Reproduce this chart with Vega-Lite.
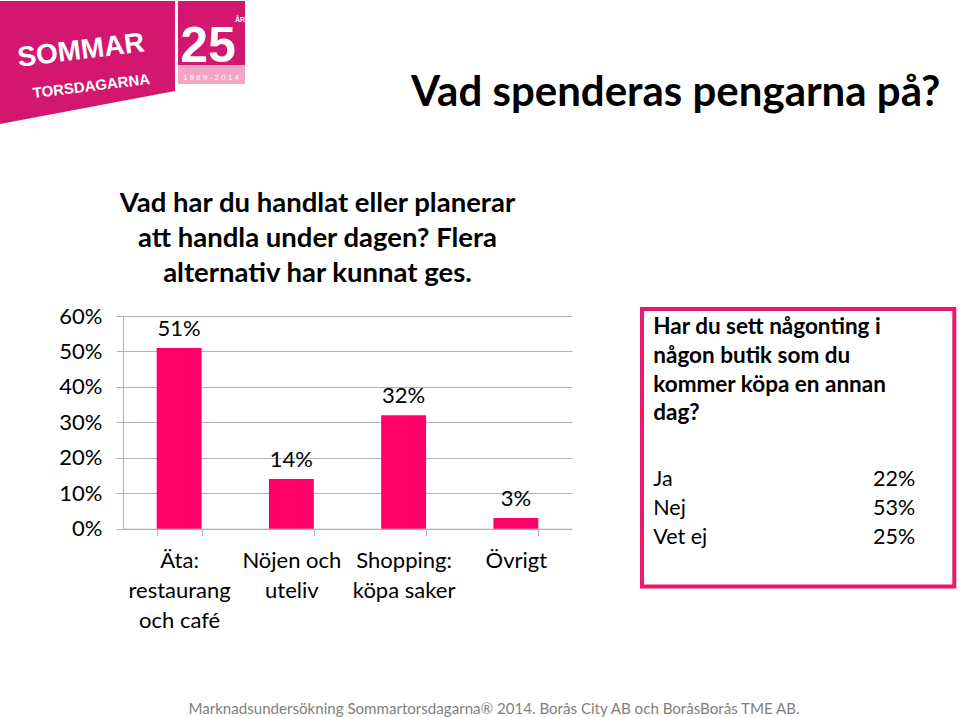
{
  "$schema": "https://vega.github.io/schema/vega-lite/v6.json",
  "padding": 0,
  "background": "#ffffff",
  "bounds": "flush",
  "align": "each",
  "spacing": 0,
  "columns": 4,
  "config": {"view": {"stroke": null}, "font": "Lato"},
  "concat": [
    {
      "width": 123,
      "height": 125,
      "data": {"values": [{}]},
      "encoding": {
        "x": {"datum": 0, "type": "quantitative", "scale": {"domain": [0, 123], "nice": false}, "axis": null},
        "y": {"datum": 0, "type": "quantitative", "scale": {"domain": [0, 125], "nice": false, "reverse": true}, "axis": null}
      },
      "layer": [
        {
          "mark": {"type": "point", "filled": true, "opacity": 1, "color": "#D3176F", "size": 30625, "shape": "M-1,-0.703L1,-0.703L1,0.3257L-1,0.703Z"},
          "encoding": {"x": {"datum": 87.5, "type": "quantitative"}, "y": {"datum": 61.5, "type": "quantitative"}}
        },
        {
          "mark": {"type": "rect", "color": "#D3176F"},
          "encoding": {"x": {"datum": 178, "type": "quantitative"}, "x2": {"datum": 245}, "y": {"datum": 0, "type": "quantitative"}, "y2": {"datum": 64}}
        },
        {
          "mark": {"type": "rect", "color": "#F2A5C5"},
          "encoding": {"x": {"datum": 178, "type": "quantitative"}, "x2": {"datum": 245}, "y": {"datum": 64, "type": "quantitative"}, "y2": {"datum": 83}}
        },
        {
          "mark": {"type": "text", "text": "SOMMAR", "font": "Liberation Sans", "fontWeight": "bold", "fontSize": 28, "color": "#ffffff", "align": "center", "baseline": "alphabetic", "angle": -7},
          "encoding": {"x": {"datum": 82, "type": "quantitative"}, "y": {"datum": 58, "type": "quantitative"}}
        },
        {
          "mark": {"type": "text", "text": "TORSDAGARNA", "font": "Liberation Sans", "fontWeight": "bold", "fontSize": 15, "color": "#ffffff", "align": "center", "baseline": "alphabetic", "angle": -7},
          "encoding": {"x": {"datum": 92, "type": "quantitative"}, "y": {"datum": 90, "type": "quantitative"}}
        },
        {
          "mark": {"type": "text", "text": "25", "font": "Liberation Sans", "fontWeight": "bold", "fontSize": 50, "color": "#ffffff", "align": "center", "baseline": "alphabetic"},
          "encoding": {"x": {"datum": 208, "type": "quantitative"}, "y": {"datum": 61, "type": "quantitative"}}
        },
        {
          "mark": {"type": "text", "text": "ÅR", "font": "Liberation Sans", "fontWeight": "bold", "fontSize": 7, "color": "#ffffff", "align": "center", "baseline": "alphabetic"},
          "encoding": {"x": {"datum": 240, "type": "quantitative"}, "y": {"datum": 21, "type": "quantitative"}}
        },
        {
          "mark": {"type": "text", "text": "1 9 8 9 - 2 0 1 4", "font": "Liberation Sans", "fontSize": 8, "color": "#ffffff", "align": "center", "baseline": "alphabetic"},
          "encoding": {"x": {"datum": 211, "type": "quantitative"}, "y": {"datum": 79, "type": "quantitative"}}
        }
      ]
    },
    {"width": 449, "height": 308, "data": {"values": []}, "mark": "point"},
    {"width": 69.4, "height": 1, "data": {"values": []}, "mark": "point"},
    {
      "width": 312.3,
      "height": 308,
      "data": {"values": []},
      "mark": "point",
      "title": {"text": "Vad spenderas pengarna på?", "anchor": "end", "frame": "group", "orient": "top", "offset": -147, "dx": -14, "baseline": "alphabetic", "font": "Lato", "fontSize": 42, "fontWeight": "bold", "color": "#000000"}
    },
    {"width": 123, "height": 1, "data": {"values": []}, "mark": "point"},
    {
      "width": 449,
      "height": 219.7,
      "data": {"values": [
        {"cat": "Äta: restaurang och café", "pct": 0.51},
        {"cat": "Nöjen och uteliv", "pct": 0.14},
        {"cat": "Shopping: köpa saker", "pct": 0.32},
        {"cat": "Övrigt", "pct": 0.03}
      ]},
      "title": {"text": ["Vad har du handlat eller planerar", "att handla under dagen? Flera", "alternativ har kunnat ges."], "anchor": "middle", "frame": "group", "dx": -30, "offset": -10, "baseline": "bottom", "lineHeight": 35, "font": "Lato", "fontSize": 27.5, "fontWeight": "bold", "color": "#000000"},
      "encoding": {
        "x": {
          "field": "cat", "type": "nominal", "sort": null,
          "scale": {"paddingInner": 0.6, "paddingOuter": 0.3},
          "axis": {
            "title": null, "labelAngle": 0, "labelFontSize": 22, "labelColor": "#000000", "labelLineHeight": 30, "labelPadding": 15,
            "tickSize": 7, "tickColor": "#B3B3B3", "domainColor": "#B3B3B3", "tickBand": "extent",
            "labelOverlap": false, "labelBound": false, "labelLimit": 0, "grid": false,
            "labelExpr": "datum.value == 'Äta: restaurang och café' ? ['Äta:', 'restaurang', 'och café'] : datum.value == 'Nöjen och uteliv' ? ['Nöjen och', 'uteliv'] : datum.value == 'Shopping: köpa saker' ? ['Shopping:', 'köpa saker'] : datum.value"
          }
        },
        "y": {
          "field": "pct", "type": "quantitative",
          "scale": {"domain": [0, 0.6], "nice": false, "range": [219.7, 7]},
          "axis": {
            "title": null, "values": [0, 0.1, 0.2, 0.3, 0.4, 0.5, 0.6], "format": ".0%",
            "labelFontSize": 22, "labelColor": "#000000", "labelPadding": 14,
            "grid": true, "gridColor": "#B3B3B3", "tickSize": 7, "tickColor": "#B3B3B3", "domainColor": "#B3B3B3"
          }
        }
      },
      "layer": [
        {"mark": {"type": "bar", "color": "#FF0066"}},
        {"mark": {"type": "text", "dy": -12, "baseline": "alphabetic", "fontSize": 22, "color": "#000000"}, "encoding": {"text": {"field": "pct", "type": "quantitative", "format": ".0%"}}}
      ]
    },
    {"width": 69.4, "height": 1, "data": {"values": []}, "mark": "point"},
    {
      "width": 312.3,
      "height": 277.5,
      "view": {"stroke": "#E8196F", "strokeWidth": 4},
      "title": {"text": ["Har du sett någonting i", "någon butik som du", "kommer köpa  en annan", "dag?"], "anchor": "start", "frame": "group", "orient": "top", "offset": -139, "dx": 11.3, "baseline": "bottom", "lineHeight": 28.8, "font": "Lato", "fontSize": 22.5, "fontWeight": "bold", "color": "#000000"},
      "data": {"values": [
        {"answer": "Ja", "share": 0.22},
        {"answer": "Nej", "share": 0.53},
        {"answer": "Vet ej", "share": 0.25}
      ]},
      "encoding": {
        "y": {"field": "answer", "type": "nominal", "sort": null, "scale": {"type": "point", "padding": 0, "range": [177, 235.3]}, "axis": null}
      },
      "layer": [
        {
          "mark": {"type": "text", "align": "left", "baseline": "alphabetic", "fontSize": 21.5, "color": "#000000"},
          "encoding": {"x": {"datum": 0, "type": "quantitative", "scale": {"domain": [-0.0431, 1.1489], "nice": false}, "axis": null}, "text": {"field": "answer"}}
        },
        {
          "mark": {"type": "text", "align": "right", "baseline": "alphabetic", "fontSize": 21.5, "color": "#000000"},
          "encoding": {"x": {"datum": 1, "type": "quantitative"}, "text": {"field": "share", "type": "quantitative", "format": ".0%"}}
        }
      ]
    },
    {"width": 123, "height": 131.5, "data": {"values": []}, "mark": "point"},
    {
      "width": 449,
      "height": 131.5,
      "data": {"values": []},
      "mark": "point",
      "title": {"text": "Marknadsundersökning Sommartorsdagarna® 2014. Borås City AB och BoråsBorås TME AB.", "anchor": "middle", "frame": "group", "orient": "top", "offset": -141.7, "dx": 146.5, "baseline": "alphabetic", "font": "Lato", "fontSize": 15.1, "fontWeight": "normal", "color": "#7F7F7F"}
    }
  ]
}
